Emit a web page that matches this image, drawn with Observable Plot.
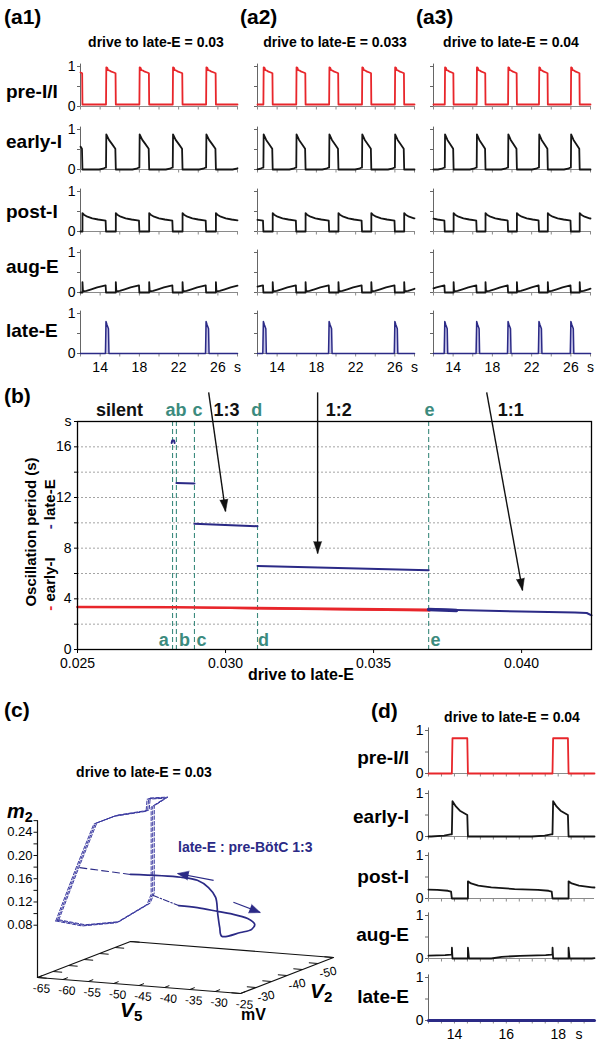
<!DOCTYPE html>
<html><head><meta charset="utf-8">
<script src="https://cdn.jsdelivr.net/npm/d3@7"></script>
<script src="https://cdn.jsdelivr.net/npm/@observablehq/plot@0.6"></script>
<style>
html,body{margin:0;padding:0;background:#fff}
#root{position:relative;width:600px;height:1050px;overflow:hidden;background:#fff;font-family:'Liberation Sans',Arial,Helvetica,sans-serif}
#root svg{position:absolute;overflow:visible}
</style></head><body><div id="root"></div>
<script>
// ================= DATA =================
const neurons = ["pre-I/I", "early-I", "post-I", "aug-E", "late-E"];
const drivesA = [0.03, 0.033, 0.04];
const driveC = 0.03, driveD = 0.04;

const onsetsA = [
  [11.2, 14.6, 18.0, 21.4, 24.8, 28.2],
  [9.25, 12.6, 15.95, 19.3, 22.65, 26.0, 29.35],
  [9.9, 13.15, 16.4, 19.6, 22.75, 26.0, 29.2]
];
const burstDurA = [1.0, 0.95, 0.9];
const lateOnsetsA = [[14.6, 24.8], [12.6, 19.3, 26.0], [13.15, 16.4, 19.6, 22.75, 26.0]];
const onsetsD = [10.02, 13.9, 17.78, 21.66];
const burstDurD = 0.62;

// waveform shapes:
// burst: [fraction of burst, value]; after: [s after burst end, value]; before: [s before next onset, value]
const preIShapeA  = {burst: [[0,0.05],[0.03,0.98],[0.12,0.97],[0.2,0.91],[0.35,0.9],[0.55,0.87],[0.8,0.85],[0.97,0.83],[1,0.05]], after: [], before: []};
const earlyIShapeA = {burst: [[0,0.05],[0.03,0.88],[0.3,0.74],[0.6,0.64],[0.95,0.52],[1,0]], after: [[0,0]], before: [[-0.7,0],[-0.3,0.02],[-0.05,0.05]]};
const postIShapeA = {burst: [[0,0],[1,0]], after: [[0,0.46],[0.15,0.42],[0.5,0.37],[1.0,0.33],[1.6,0.3],[2.2,0.28]], before: [[-0.04,0.27]]};
const augEShapeA  = {burst: [[0,0],[1,0]], after: [[0,0.26],[0.05,0.03],[0.4,0.04],[0.9,0.08],[1.5,0.13]], before: [[-0.04,0.18]]};
const lateEShapeA = {burst: [[-0.06,0],[0,0.8],[0.1,0.72],[0.25,0.62],[0.3,0]], after: [], before: []};

const preIShapeD  = {burst: [[0,0],[0.04,0.82],[0.96,0.82],[1,0]], after: [], before: []};
const earlyIShapeD = {burst: [[0,0.05],[0.04,0.82],[0.25,0.7],[0.5,0.6],[0.96,0.5],[1,0]], after: [[0,0]], before: [[-0.8,0],[-0.3,0.02],[-0.05,0.05]]};
const postIShapeD = {burst: [[0,0],[1,0]], after: [[0,0.4],[0.12,0.35],[0.4,0.3],[0.9,0.26],[1.8,0.22],[2.7,0.2]], before: [[-0.15,0.18],[-0.03,0.16]]};
const augEShapeD  = {burst: [[0,0.09],[0.005,0.25],[0.04,0],[1,0]], after: [[0,0.25],[0.04,0],[0.9,0],[1.3,0.04],[2.0,0.06],[3.0,0.08]], before: [[-0.03,0.09]]};
const lateED = [[13, 0], [19.4, 0]];

const timeTicksA = [12,14,16,18,20,22,24,26,28];
const timeLabelsA = [14,18,22,26];
const timeTicksD = [13,13.5,14,14.5,15,15.5,16,16.5,17,17.5,18,18.5,19];
const timeLabelsD = [14,16,18];

// panel b: oscillation period vs drive to late-E
const gridB = [2,4,6,8,10,12,14,16];
const periodTicks = [0,2,4,6,8,10,12,14,16,18];
const driveTicks = [0.025, 0.030, 0.035, 0.040];
const bifDrive = [0.02821, 0.02834, 0.02895, 0.03108, 0.03686];
const bifTopNames = ["ab","c","d","e"];
const bifTopDrive = [0.02833, 0.02905, 0.03105, 0.03689];
const bifBottomNames = ["a","b","c","d","e"];
const bifBottomDrive = [0.02791, 0.02861, 0.02919, 0.03128, 0.03709];
const regimeNames = ["silent","1:3","1:2","1:1"];
const regimeDrive = [0.02642, 0.03003, 0.03382, 0.03963];
const earlyIPeriod = [[0.025,3.35],[0.0283,3.34],[0.031,3.28],[0.0369,3.13]];
const earlyIPeriodLow = [[0.029,3.3],[0.031,3.2],[0.0369,3.04]];
const lateEPeriod = [
  [[0.02818,16.3],[0.0282,16.5],[0.02826,16.5],[0.02828,16.3]],
  [[0.02834,13.15],[0.02895,13.1]],
  [[0.02895,9.92],[0.03108,9.73]],
  [[0.03108,6.6],[0.03686,6.25]],
  [[0.03686,3.2],[0.0378,3.12],[0.040,3.0],[0.0418,2.92],[0.0422,2.88],[0.04236,2.7]]
];
const lateEPeriodThick = [[0.03686,3.15],[0.0378,3.08]];
const arrowsB = [
  {x1:0.02943, y1:20.3, x2:0.0300, y2:10.9},
  {x1:0.03311, y1:20.3, x2:0.03311, y2:7.58},
  {x1:0.03882, y1:20.3, x2:0.04003, y2:4.66}
];

// panel c: 3-D phase portrait (V5, V2, m2)
const m2Floor = -0.01, m2Top = 0.26;
const v5Ticks = [-65,-60,-55,-50,-45,-40,-35,-30,-25];
const v2Ticks = [-25,-30,-35,-40,-45,-50,-55];
const v2Labels = [-30,-40,-50];
const m2Ticks = [0.08,0.10,0.12,0.14,0.16,0.18,0.20,0.22,0.24,0.26];
const m2Labels = [0.08,0.12,0.16,0.20,0.24];
const pbcCycle = [[-61.1,0.091],[-57.1,0.185],[-53.6,0.263],[-49.6,0.279],[-43.3,0.292],[-43.1,0.313],[-39.6,0.317],[-42.3,0.300],[-42.3,0.150],[-43.1,0.132],[-49.2,0.096],[-55.9,0.086],[-61.1,0.091]];
const pbcCycleV2 = [-24.5, -25, -25.5];
const lateCycle = [[-37.2,0.133],[-33.5,0.132],[-29.3,0.128],[-27.0,0.126],[-23.6,0.120],[-22.2,0.111],[-22.8,0.102],[-25.0,0.095],[-28.7,0.086],[-29.1,0.101],[-29.5,0.125],[-29.9,0.152],[-31.3,0.168],[-33.5,0.179],[-36.8,0.182],[-46.7,0.180]];
const lateCycleV2 = -25;
const entryLeg = [[-42.3,0.147],[-37.2,0.133]];
const returnLeg = [[-46.7,0.180],[-57.1,0.185]];
const arrowsC = [
  {a:[-30.3,0.181], b:[-37.4,0.188]},
  {a:[-26.4,0.146], b:[-21.1,0.132]}
];

// ================= HELPERS =================
const FONT = "'Liberation Sans', Arial, Helvetica, sans-serif";
const RED = "#e8262b", NAVY = "#2b2a86", TEAL = "#3c8b7e", BLACK = "#151515";
const root = document.getElementById("root");
const baseStyle = {background: "transparent", fontFamily: FONT, fontSize: "14px", color: "#000", overflow: "visible"};

function put(node, left, top) {
  node.style.position = "absolute";
  node.style.left = left + "px";
  node.style.top = top + "px";
  root.appendChild(node);
  return node;
}
function txt(html, x, y, o = {}) {
  const size = o.size || 14;
  const d = document.createElement("div");
  d.innerHTML = html;
  Object.assign(d.style, {
    position: "absolute", whiteSpace: "nowrap", fontSize: size + "px", lineHeight: "1",
    fontWeight: o.weight || "normal", fontStyle: o.italic ? "italic" : "normal",
    color: o.color || "#000", fontFamily: FONT, left: x + "px", top: (y - 0.85 * size) + "px"
  });
  const ax = o.anchor === "middle" ? "-50%" : o.anchor === "end" ? "-100%" : "0";
  d.style.transform = `translateX(${ax})`;
  root.appendChild(d);
  return d;
}
function buildTrace(onsets, dur, shape) {
  const pts = [];
  onsets.forEach((t0, i) => {
    shape.burst.forEach(([p, v]) => pts.push([t0 + p * dur, v]));
    const t1 = onsets[i + 1];
    if (t1 === undefined) return;
    const end = t0 + dur;
    const bf = shape.before.map(([dt, v]) => [t1 + dt, v]);
    const limit = bf.length ? bf[0][0] : t1;
    shape.after.forEach(([dt, v]) => { if (end + dt < limit) pts.push([end + dt, v]); });
    bf.forEach(p => { if (p[0] > end) pts.push(p); });
  });
  return pts;
}
function clipX(pts, [a, b]) {
  const out = [];
  for (let i = 0; i < pts.length; i++) {
    const p = pts[i], q = pts[i + 1];
    if (p[0] >= a && p[0] <= b) out.push(p);
    if (q) for (const e of [a, b]) {
      if ((p[0] - e) * (q[0] - e) < 0) {
        const t = (e - p[0]) / (q[0] - p[0]);
        out.push([e, p[1] + t * (q[1] - p[1])]);
      }
    }
  }
  return out;
}
function traceRow({left, zeroY, amp, width, domain, ticks, fmt, data, color, sw, fill, showY, extra = []}) {
  const ml = 16, mr = 6, mt = 6, mb = fmt ? 26 : 6;
  const d = clipX(data, domain);
  const xy = {x: p => p[0], y: p => p[1]};
  const marks = [
    Plot.ruleY([0], {stroke: "#8a8a8a", strokeWidth: 1}),
    Plot.axisX({ticks, tickSize: 3.5, tickPadding: 5, stroke: "#8a8a8a", fill: "#000", fontSize: 14,
      tickFormat: fmt || (() => "")}),
    Plot.ruleX([domain[0]], {y1: 0, y2: 1.06, stroke: "#666", strokeWidth: 1}),
    Plot.axisY({ticks: [0, 0.5, 1], tickSize: 3, tickPadding: 2, stroke: "#666", fill: "#000", fontSize: 14,
      tickFormat: showY ? (v => v === 0.5 ? "" : String(v)) : (() => "")})
  ];
  if (fill) marks.push(Plot.areaY(d, {...xy, fill, fillOpacity: 1}));
  marks.push(Plot.line(d, {...xy, stroke: color, strokeWidth: sw, strokeLinejoin: "round"}));
  marks.push(...extra);
  const svg = Plot.plot({
    width: width + ml + mr, height: amp + mt + mb,
    marginLeft: ml, marginRight: mr, marginTop: mt, marginBottom: mb,
    x: {domain, axis: null}, y: {domain: [0, 1], axis: null},
    style: baseStyle, marks
  });
  put(svg, left - ml, zeroY - amp - mt);
}

// ================= PANEL A =================
const colLeftA = [80, 257, 433];
const zeroA = [106, 169, 231, 292, 353];
const labelBaseA = [98, 148, 218, 273, 337];
const domainA = [12, 28];
const fmtA = v => v === 28 ? "s" : timeLabelsA.includes(v) ? String(v) : "";
colLeftA.forEach((left, c) => {
  const dur = burstDurA[c], on = onsetsA[c];
  const traces = [
    buildTrace(on, dur, preIShapeA),
    buildTrace(on, dur, earlyIShapeA),
    buildTrace(on, dur, postIShapeA),
    buildTrace(on, dur, augEShapeA),
    [[domainA[0], 0], ...buildTrace(lateOnsetsA[c], 1, lateEShapeA), [domainA[1], 0]]
  ];
  traces.forEach((data, r) => {
    traceRow({
      left, zeroY: zeroA[r], amp: 40, width: 157, domain: domainA, ticks: timeTicksA,
      fmt: r === 4 ? fmtA : null, data,
      color: r === 0 ? RED : r === 4 ? NAVY : BLACK, sw: r === 4 ? 1.5 : 1.8,
      fill: r === 4 ? "#c9c7ea" : null, showY: c === 0
    });
  });
});
txt("(a1)", 4, 24, {size: 21, weight: "bold"});
txt("(a2)", 240, 24, {size: 21, weight: "bold"});
txt("(a3)", 416, 24, {size: 21, weight: "bold"});
[156, 335, 511].forEach((cx, c) => txt(`drive to late-E = ${drivesA[c]}`, cx, 47, {size: 14, weight: "bold", anchor: "middle"}));
neurons.forEach((n, r) => txt(n, 6, labelBaseA[r], {size: 19, weight: "bold"}));

// ================= PANEL B =================
function bOptions(heads) {
  const lateRows = lateEPeriod.flatMap((seg, i) => seg.map(([d, p]) => ({d, p, seg: i})));
  return {
    width: 600, height: 300, marginLeft: 77, marginRight: 9, marginTop: 41, marginBottom: 31,
    x: {domain: [0.025, 0.04236], axis: null}, y: {domain: [0, 18], axis: null},
    style: baseStyle,
    marks: [
      Plot.ruleY(gridB, {stroke: "#9a9a9a", strokeDasharray: "2,2", strokeWidth: 0.9}),
      Plot.ruleX(bifDrive, {stroke: TEAL, strokeDasharray: "5,3", strokeWidth: 1.1}),
      Plot.line(earlyIPeriod, {x: p => p[0], y: p => p[1], stroke: RED, strokeWidth: 2.6}),
      Plot.line(earlyIPeriodLow, {x: p => p[0], y: p => p[1], stroke: RED, strokeWidth: 1.2}),
      Plot.line(lateRows, {x: "d", y: "p", z: "seg", stroke: NAVY, strokeWidth: 2}),
      Plot.line(lateEPeriodThick, {x: p => p[0], y: p => p[1], stroke: NAVY, strokeWidth: 3.5}),
      Plot.frame({stroke: "#000", strokeWidth: 1.3}),
      Plot.axisY({ticks: periodTicks, tickSize: 3, tickPadding: 3, fontSize: 14,
        tickFormat: v => v === 18 ? "s" : v % 4 === 0 ? String(v) : ""}),
      Plot.axisX({ticks: driveTicks, tickSize: 4, tickPadding: 5, fontSize: 14, tickFormat: d3.format(".3f")}),
      Plot.text(regimeNames, {x: (_, i) => regimeDrive[i], y: () => 18.9, text: d => d, fontSize: 18, fontWeight: "bold", fill: "#111"}),
      Plot.text(bifTopNames, {x: (_, i) => bifTopDrive[i], y: () => 18.9, text: d => d, fontSize: 18, fontWeight: "bold", fill: TEAL}),
      Plot.text(bifBottomNames, {x: (_, i) => bifBottomDrive[i], y: () => 0.75, text: d => d, fontSize: 18, fontWeight: "bold", fill: TEAL}),
      Plot.link(arrowsB, {x1: "x1", y1: "y1", x2: "x2", y2: "y2", stroke: "#111", strokeWidth: 1.4}),
      Plot.vector(heads, {x: "x", y: "y", rotate: "r", length: 12, shape: "spike", r: 4, anchor: "end", fill: "#111", stroke: "#111", strokeWidth: 0.5})
    ]
  };
}
{
  const probe = Plot.plot(bOptions([]));
  const sx = probe.scale("x"), sy = probe.scale("y");
  const heads = arrowsB.map(a => {
    const dx = sx.apply(a.x2) - sx.apply(a.x1), dy = sy.apply(a.y2) - sy.apply(a.y1);
    return {x: a.x2, y: a.y2, r: Math.atan2(dx, -dy) * 180 / Math.PI};
  });
  put(Plot.plot(bOptions(heads)), 0, 380);
}
txt("(b)", 4, 403, {size: 21, weight: "bold"});
txt("drive to late-E", 301, 681, {size: 16, weight: "bold", anchor: "middle"});
{
  const mk = (html, cx, cy) => {
    const d = document.createElement("div");
    d.innerHTML = html;
    Object.assign(d.style, {position: "absolute", left: cx + "px", top: cy + "px", whiteSpace: "nowrap",
      fontSize: "15px", fontWeight: "bold", lineHeight: "1", fontFamily: FONT,
      transform: "translate(-50%,-50%) rotate(-90deg)"});
    root.appendChild(d);
  };
  mk("Oscillation period (s)", 30, 532);
  mk(`<span style="color:${RED}">-</span>&nbsp;early-I<span style="display:inline-block;width:28px"></span><span style="color:${NAVY}">-</span>&nbsp;late-E`, 49, 545);
}

// ================= PANEL C =================
function proj(v5, v2, m2) {
  const u = v5 + 65, w = -25 - v2;
  return [37 + 5.075 * u + 3.1 * w, 977 + 0.4 * u - 1.2 * w - 581 * (m2 - m2Floor)];
}
{
  const cTop = 770, cW = 345, cH = 260;
  const X = p => p[0], Y = p => p[1];
  const box = [[-65,-25],[-25,-25],[-25,-55],[-65,-55],[-65,-25]].map(([a, b]) => proj(a, b, m2Floor));
  const m2Axis = [proj(-65, -25, m2Floor), proj(-65, -25, m2Top)];
  const m2TickLinks = m2Ticks.map(m => { const p = proj(-65, -25, m); return {x1: p[0] - 4, x2: p[0], y: p[1]}; });
  const v5TickLinks = v5Ticks.map(v => ({a: proj(v, -25, m2Floor), b: proj(v, -26.6, m2Floor)}));
  const v2TickLinks = v2Ticks.flatMap(v => [
    {a: proj(-25, v, m2Floor), b: proj(-26.8, v, m2Floor)},
    {a: proj(-65, v, m2Floor), b: proj(-63.2, v, m2Floor)}
  ]);
  const dashed = pbcCycleV2.flatMap((v2, k) => pbcCycle.map(([v5, m]) => { const p = proj(v5, v2, m); return {x: p[0], y: p[1], k}; }));
  const solid = lateCycle.map(([v5, m]) => proj(v5, lateCycleV2, m));
  const entry = entryLeg.map(([v5, m]) => proj(v5, lateCycleV2, m));
  const ret = returnLeg.map(([v5, m]) => proj(v5, lateCycleV2, m));
  const arr = arrowsC.map(({a, b}) => {
    const p = proj(a[0], lateCycleV2, a[1]), q = proj(b[0], lateCycleV2, b[1]);
    return {x1: p[0], y1: p[1], x2: q[0], y2: q[1], r: Math.atan2(q[0] - p[0], -(q[1] - p[1])) * 180 / Math.PI};
  });
  const svg = Plot.plot({
    width: cW, height: cH, marginLeft: 0, marginRight: 0, marginTop: 0, marginBottom: 0,
    x: {domain: [0, cW], range: [0, cW], axis: null},
    y: {domain: [cTop, cTop + cH], range: [0, cH], axis: null},
    style: baseStyle,
    marks: [
      Plot.line(box, {x: X, y: Y, stroke: "#111", strokeWidth: 1.2}),
      Plot.line(m2Axis, {x: X, y: Y, stroke: "#111", strokeWidth: 1.2}),
      Plot.link(m2TickLinks, {x1: "x1", x2: "x2", y1: "y", y2: "y", stroke: "#111"}),
      Plot.link(v5TickLinks, {x1: d => d.a[0], y1: d => d.a[1], x2: d => d.b[0], y2: d => d.b[1], stroke: "#111"}),
      Plot.link(v2TickLinks, {x1: d => d.a[0], y1: d => d.a[1], x2: d => d.b[0], y2: d => d.b[1], stroke: "#111"}),
      Plot.text(m2Labels, {x: m => proj(-65, -25, m)[0] - 5, y: m => proj(-65, -25, m)[1], text: d3.format(".2f"), textAnchor: "end", fontSize: 13}),
      Plot.text(v5Ticks, {x: v => proj(v, -25, m2Floor)[0] + 4, y: v => proj(v, -25, m2Floor)[1] + 11, text: v => String(v), fontSize: 12, rotate: 4.5}),
      Plot.text(v2Labels, {x: v => proj(-25, v, m2Floor)[0] + 10, y: v => proj(-25, v, m2Floor)[1] + 9, text: v => String(v), fontSize: 12, rotate: -12}),
      Plot.line(dashed, {x: "x", y: "y", z: "k", stroke: "#3a39a0", strokeWidth: 1, strokeDasharray: "3.5,2"}),
      Plot.line(entry, {x: X, y: Y, stroke: NAVY, strokeWidth: 1.1, strokeDasharray: "6,2,1.5,2"}),
      Plot.line(ret, {x: X, y: Y, stroke: NAVY, strokeWidth: 1.1, strokeDasharray: "7,4"}),
      Plot.line(solid, {x: X, y: Y, stroke: NAVY, strokeWidth: 1.7, curve: "catmull-rom"}),
      Plot.link(arr, {x1: "x1", y1: "y1", x2: "x2", y2: "y2", stroke: NAVY, strokeWidth: 1.2}),
      Plot.vector(arr, {x: "x2", y: "y2", rotate: "r", length: 11, shape: "spike", r: 4.5, anchor: "end", fill: NAVY, stroke: NAVY, strokeWidth: 0.5})
    ]
  });
  put(svg, 0, cTop);
}
txt("(c)", 4, 717, {size: 21, weight: "bold"});
txt(`drive to late-E = ${driveC}`, 144, 777, {size: 14, weight: "bold", anchor: "middle"});
txt(`<i>m</i><sub style="font-size:0.72em;vertical-align:-0.25em">2</sub>`, 7, 818, {size: 20, weight: "bold"});
txt(`<i>V</i><sub style="font-size:0.72em;vertical-align:-0.25em">5</sub>`, 120, 1017, {size: 21, weight: "bold"});
txt(`<i>V</i><sub style="font-size:0.72em;vertical-align:-0.25em">2</sub>`, 310, 998, {size: 21, weight: "bold"});
txt("mV", 241, 1021, {size: 16, weight: "bold"});
txt("late-E : pre-BötC 1:3", 178, 852, {size: 14, weight: "bold", color: NAVY});

// ================= PANEL D =================
{
  const left = 427.5, width = 166, domain = [13, 19.4];
  const zeroD = [773, 836, 898, 958, 1020];
  const labelBaseD = [764, 823, 883, 941, 1003];
  const fmtD = v => timeLabelsD.includes(v) ? String(v) : "";
  const traces = [
    buildTrace(onsetsD, burstDurD, preIShapeD),
    buildTrace(onsetsD, burstDurD, earlyIShapeD),
    buildTrace(onsetsD, burstDurD, postIShapeD),
    buildTrace(onsetsD, burstDurD, augEShapeD),
    lateED
  ];
  traces.forEach((data, r) => {
    traceRow({
      left, zeroY: zeroD[r], amp: 43, width, domain, ticks: timeTicksD,
      fmt: r === 4 ? fmtD : null, data,
      color: r === 0 ? RED : r === 4 ? NAVY : BLACK, sw: r === 4 ? 3 : 1.8, showY: true,
      extra: r === 4 ? [Plot.text(["s"], {x: () => 18.8, y: () => 0, text: d => d, dy: 8.5, lineAnchor: "top", fontSize: 14})] : []
    });
  });
  neurons.forEach((n, r) => txt(n, 409, labelBaseD[r], {size: 19, weight: "bold", anchor: "end"}));
  txt("(d)", 371, 718, {size: 21, weight: "bold"});
  txt(`drive to late-E = ${driveD}`, 512, 722, {size: 14, weight: "bold", anchor: "middle"});
}
</script></body></html>
